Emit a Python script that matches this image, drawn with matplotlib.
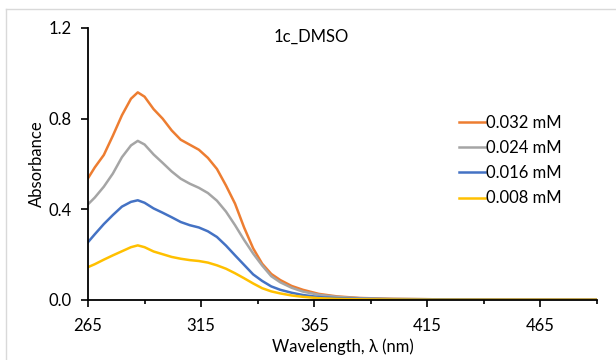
import matplotlib
matplotlib.use("Agg")
import matplotlib.pyplot as plt
from matplotlib.lines import Line2D

# wavelength grid (nm) and absorbance
wavelength = [265, 268, 272, 276, 280, 284, 287, 290, 294, 298, 302, 306, 310, 314,
              318, 322, 326, 330, 334, 338, 342, 346, 350, 355, 360, 367, 375, 385,
              400, 420, 450, 490]

abs_032 = [0.537, 0.585, 0.64, 0.725, 0.815, 0.888, 0.916, 0.897, 0.842, 0.80, 0.748,
           0.707, 0.685, 0.663, 0.627, 0.578, 0.505, 0.425, 0.32, 0.228, 0.16, 0.115,
           0.088, 0.062, 0.045, 0.027, 0.016, 0.009, 0.005, 0.003, 0.002, 0.001]
abs_024 = [0.422, 0.452, 0.50, 0.558, 0.63, 0.682, 0.702, 0.686, 0.642, 0.605, 0.567,
           0.535, 0.513, 0.495, 0.472, 0.438, 0.39, 0.33, 0.265, 0.205, 0.152, 0.105,
           0.078, 0.054, 0.037, 0.023, 0.014, 0.008, 0.005, 0.003, 0.002, 0.001]
abs_016 = [0.255, 0.29, 0.335, 0.375, 0.412, 0.433, 0.44, 0.429, 0.404, 0.385, 0.365,
           0.344, 0.33, 0.32, 0.303, 0.278, 0.24, 0.197, 0.155, 0.113, 0.084, 0.06,
           0.045, 0.032, 0.022, 0.013, 0.008, 0.005, 0.003, 0.002, 0.001, 0.001]
abs_008 = [0.145, 0.158, 0.178, 0.197, 0.215, 0.233, 0.241, 0.233, 0.214, 0.202, 0.19,
           0.182, 0.176, 0.172, 0.165, 0.153, 0.138, 0.118, 0.096, 0.073, 0.052, 0.038,
           0.029, 0.02, 0.014, 0.008, 0.005, 0.003, 0.002, 0.001, 0.001, 0.001]

labels = ["0.032 mM", "0.024 mM", "0.016 mM", "0.008 mM"]
colors = ["#ED7D31", "#A5A5A5", "#4472C4", "#FFC000"]
series = [abs_032, abs_024, abs_016, abs_008]

x_major = [265, 315, 365, 415, 465]
x_minor = [290, 340, 390, 440, 490]
y_ticks = [0.0, 0.4, 0.8, 1.2]

plt.rcParams['font.family'] = ['Lato', 'DejaVu Sans']

fig = plt.figure(figsize=(6.16, 3.6), dpi=100)
ax = fig.add_axes([88/616, 1 - 300/360, (597 - 88)/616, (300 - 28)/360])

# light frame: only top and left edges show in the reference
fig.add_artist(Line2D([6/616, 1], [1 - 9/360, 1 - 9/360], transform=fig.transFigure,
                      color="#D9D9D9", linewidth=1))
fig.add_artist(Line2D([6/616, 6/616], [0, 1 - 9/360], transform=fig.transFigure,
                      color="#D9D9D9", linewidth=1))

for vals, lab, col in zip(series, labels, colors):
    ax.plot(wavelength, vals, color=col, linewidth=1.8, label=lab)

ax.set_xlim(265, 490)
ax.set_ylim(0, 1.2)
ax.set_xticks(x_major)
ax.set_xticks(x_minor, minor=True)
ax.set_yticks(y_ticks)
ax.set_yticklabels(["%.1f" % v for v in y_ticks])
ax.tick_params(axis='both', which='major', direction='out', length=5, width=1.2,
               labelsize=12, color='black')
ax.tick_params(axis='x', which='minor', direction='out', length=3, width=1.2)
ax.tick_params(axis='x', pad=8)
ax.tick_params(axis='y', pad=7)
for s in ['top', 'right']:
    ax.spines[s].set_visible(False)
for s in ['left', 'bottom']:
    ax.spines[s].set_linewidth(1.3)

ax.set_xlabel("Wavelength, λ (nm)", fontsize=12, labelpad=3)
ax.set_ylabel("Absorbance", fontsize=12, labelpad=2)
fig.text(311/616, 1 - 37/360, "1c_DMSO", fontsize=12, ha='center', va='center')

ax.legend(loc='upper left', bbox_to_anchor=(0.716, 0.705), frameon=False,
          fontsize=12, handlelength=1.55, handletextpad=0.08, labelspacing=0.55,
          borderaxespad=0)

fig.savefig("out.png", dpi=100)
